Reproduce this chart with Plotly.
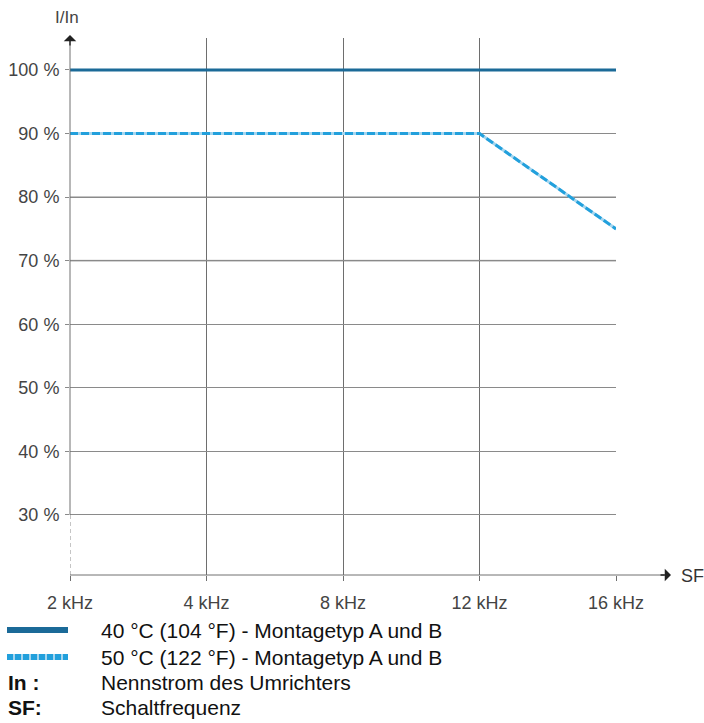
import plotly.graph_objects as go

# ---- data ----
freq_labels = ["2 kHz", "4 kHz", "8 kHz", "12 kHz", "16 kHz"]
current_40c = [100, 100, 100, 100, 100]
current_50c = [90, 90, 90, 90, 75]
y_ticks = [30, 40, 50, 60, 70, 80, 90, 100]
y_tick_labels = [f"{v} %" for v in y_ticks]
legend_rows = [
    ("", "40 °C (104 °F) - Montagetyp A und B"),
    ("", "50 °C (122 °F) - Montagetyp A und B"),
    ("In :", "Nennstrom des Umrichters"),
    ("SF:", "Schaltfrequenz"),
]

# ---- layout geometry (pixels) ----
W, H = 704, 723
L, R, T, B = 70, 88, 38, 148
pw, ph = W - L - R, H - T - B
Y_MIN, Y_MAX = 20.56, 105.03
x_idx = list(range(len(freq_labels)))

FONT = "Liberation Sans, Arial, Helvetica, sans-serif"
C_SOLID = "#1b6a98"
C_DASH = "#22a0dc"
C_DASH_BG = "#a6d6ef"
C_AXIS = "#707070"


def px_x(p):
    return (p - L) / pw


def px_y(p):
    return (H - B - p) / ph


fig = go.Figure()
fig.add_trace(go.Scatter(x=x_idx, y=current_40c, mode="lines",
                         line=dict(color=C_SOLID, width=3.2), showlegend=False,
                         hoverinfo="skip"))
fig.add_trace(go.Scatter(x=x_idx, y=current_50c, mode="lines",
                         line=dict(color=C_DASH_BG, width=3), showlegend=False,
                         hoverinfo="skip"))
fig.add_trace(go.Scatter(x=x_idx, y=current_50c, mode="lines",
                         line=dict(color=C_DASH, width=3, dash="8px,3px"),
                         showlegend=False, hoverinfo="skip"))

shapes = []
# lighter grid lines at 80 / 70
for lv in (80, 70):
    shapes.append(dict(type="line", xref="x", yref="y", x0=x_idx[0], x1=x_idx[-1],
                       y0=lv, y1=lv, line=dict(color="#c4c4c4", width=2),
                       layer="below"))
# dashed part of the y axis below 30 %
shapes.append(dict(type="line", xref="x", yref="y", x0=0, x1=0, y0=Y_MIN,
                   y1=y_ticks[0], line=dict(color="#8c8c8c", width=1, dash="4px,3px")))
# solid part of the y axis (30 % upward to the arrow)
shapes.append(dict(type="line", xref="paper", yref="paper", x0=0, x1=0,
                   y0=px_y(H - B - (y_ticks[0] - Y_MIN) / (Y_MAX - Y_MIN) * ph),
                   y1=px_y(40), line=dict(color=C_AXIS, width=1)))
# x axis line
shapes.append(dict(type="line", xref="paper", yref="paper", x0=0, x1=px_x(664),
                   y0=0, y1=0, line=dict(color=C_AXIS, width=1)))

annotations = []
# arrow heads
annotations.append(dict(xref="paper", yref="paper", x=0, y=px_y(35),
                        axref="pixel", ayref="pixel", ax=0, ay=12,
                        showarrow=True, arrowhead=1, arrowsize=1.6, arrowwidth=1.3,
                        arrowcolor="#222", text="", standoff=0, startstandoff=0))
annotations.append(dict(xref="paper", yref="paper", x=px_x(671), y=0,
                        axref="pixel", ayref="pixel", ax=-12, ay=0,
                        showarrow=True, arrowhead=1, arrowsize=1.6, arrowwidth=1.3,
                        arrowcolor="#222", text="", standoff=0, startstandoff=0))
annotations.append(dict(xref="paper", yref="paper", x=px_x(679), y=px_y(576),
                        xanchor="left", yanchor="middle", showarrow=False,
                        text="SF", font=dict(family=FONT, size=18, color="#333")))
annotations.append(dict(xref="paper", yref="paper", x=px_x(67), y=px_y(17),
                        xanchor="center", yanchor="middle", showarrow=False,
                        text="I/In", font=dict(family=FONT, size=17, color="#444")))

# legend block
row_y = [630, 657, 682, 707]
for i, (lab, txt) in enumerate(legend_rows):
    yp = px_y(row_y[i])
    if i == 0:
        shapes.append(dict(type="line", xref="paper", yref="paper", x0=px_x(7),
                           x1=px_x(68), y0=yp, y1=yp,
                           line=dict(color=C_SOLID, width=6)))
    elif i == 1:
        shapes.append(dict(type="line", xref="paper", yref="paper", x0=px_x(7),
                           x1=px_x(68), y0=yp, y1=yp,
                           line=dict(color=C_DASH_BG, width=6)))
        shapes.append(dict(type="line", xref="paper", yref="paper", x0=px_x(7),
                           x1=px_x(68), y0=yp, y1=yp,
                           line=dict(color=C_DASH, width=6, dash="6px,2px")))
    else:
        annotations.append(dict(xref="paper", yref="paper", x=px_x(6), y=yp,
                                xanchor="left", yanchor="middle", showarrow=False,
                                text=f"<b>{lab}</b>",
                                font=dict(family=FONT, size=21, color="#111")))
    annotations.append(dict(xref="paper", yref="paper", x=px_x(99), y=yp,
                            xanchor="left", yanchor="middle", showarrow=False,
                            text=txt, font=dict(family=FONT, size=21, color="#111")))

fig.update_layout(
    width=W, height=H,
    margin=dict(l=L, r=R, t=T, b=B, pad=0, autoexpand=False),
    plot_bgcolor="white", paper_bgcolor="white",
    shapes=shapes, annotations=annotations,
    xaxis=dict(range=[x_idx[0], x_idx[-1]], tickvals=x_idx, ticktext=freq_labels,
               showgrid=True, gridcolor="#6e6e6e", gridwidth=1, zeroline=False,
               showline=False, ticks="outside", ticklen=5, tickcolor="#6e6e6e",
               ticklabelstandoff=6, automargin=False,
               tickfont=dict(family=FONT, size=18, color="#444")),
    yaxis=dict(range=[Y_MIN, Y_MAX], tickvals=y_ticks, ticktext=y_tick_labels,
               showgrid=True, gridcolor="#8a8a8a", gridwidth=1, zeroline=False,
               showline=False, ticks="outside", ticklen=4, tickcolor="#8a8a8a",
               ticklabelstandoff=2, automargin=False,
               tickfont=dict(family=FONT, size=18, color="#444")),
)

fig.write_html(
    "out.html",
    config={"displayModeBar": False},
    post_script="document.body.style.margin='0px';"
                "document.body.style.overflow='hidden';",
)
